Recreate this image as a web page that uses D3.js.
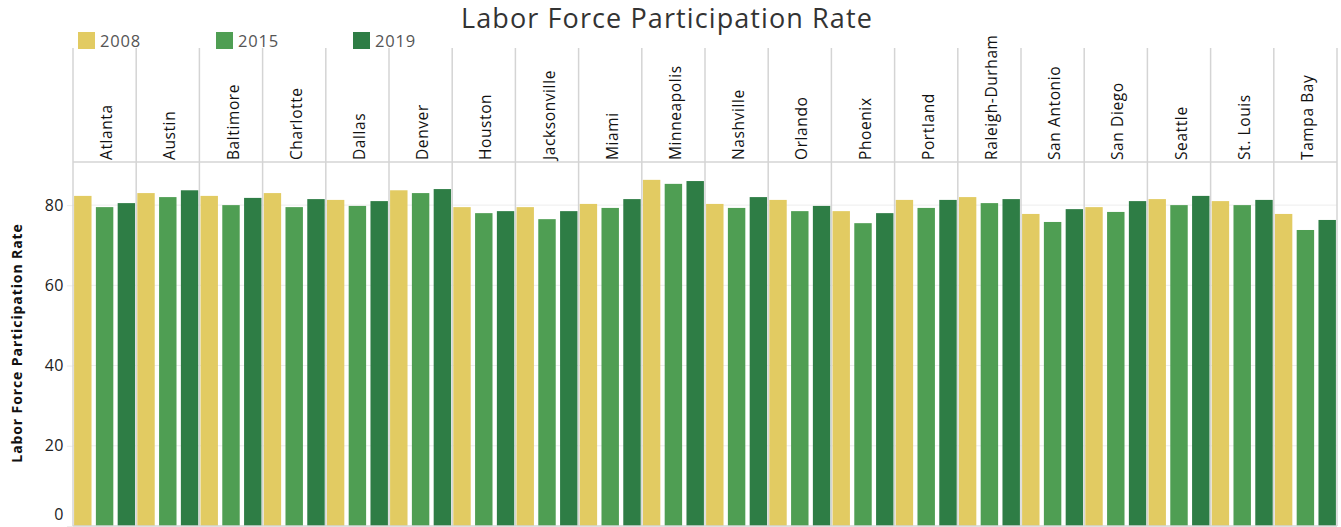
<!DOCTYPE html>
<html><head><meta charset="utf-8">
<script src="https://cdn.jsdelivr.net/npm/d3@7"></script>
<style>body{margin:0;background:#fff}svg{display:block}</style>
</head><body>
<svg id="c" width="1341" height="527"></svg>
<script>
const cities = ["Atlanta","Austin","Baltimore","Charlotte","Dallas","Denver","Houston","Jacksonville","Miami","Minneapolis","Nashville","Orlando","Phoenix","Portland","Raleigh-Durham","San Antonio","San Diego","Seattle","St. Louis","Tampa Bay"];
const years = ["2008","2015","2019"];
const v2008 = [82.3,83.0,82.3,83.0,81.3,83.7,79.5,79.5,80.3,86.3,80.3,81.3,78.5,81.3,82.0,77.8,79.5,81.5,81.0,77.8];
const v2015 = [79.5,82.0,80.0,79.5,79.8,83.0,78.0,76.5,79.3,85.3,79.3,78.5,75.5,79.3,80.5,75.8,78.3,80.0,80.0,73.8];
const v2019 = [80.5,83.7,81.8,81.5,81.0,84.0,78.5,78.5,81.5,86.0,82.0,79.8,78.0,81.3,81.5,79.0,81.0,82.3,81.3,76.3];
const yTicks = [0,20,40,60,80];
const colors = ["#e2cb62","#4f9e53","#2e7d45"];

const series = [v2008, v2015, v2019];
const svg = d3.select("#c");
const left = 73, right = 1337, headTop = 48, headBottom = 162, bottom = 526;

const x0 = d3.scaleBand().domain(cities).range([left, right]).padding(0);
const x1 = d3.scaleBand().domain(years).range([0, x0.bandwidth()]).paddingInner(0.2).paddingOuter(0.05);
const y = d3.scaleLinear().domain([0, 80]).range([bottom, bottom - 80*4.011]);

// title
svg.append("text").attr("x", 667).attr("y", 28).attr("text-anchor","middle")
  .attr("font-family","Open Sans, sans-serif").attr("font-size", 27).attr("letter-spacing", 1.1).attr("fill","#333")
  .text("Labor Force Participation Rate");

// legend
const legX = [78, 216, 353];
years.forEach((yr,i)=>{
  svg.append("rect").attr("x",legX[i]).attr("y",32).attr("width",17).attr("height",17).attr("fill",colors[i]);
  svg.append("text").attr("x",legX[i]+22).attr("y",47).attr("font-family","Open Sans, sans-serif")
    .attr("font-size",16.5).attr("letter-spacing",0.8).attr("fill","#555").text(yr);
});

// gridlines
svg.append("g").selectAll("line").data(yTicks.filter(d=>d>0)).join("line")
  .attr("x1",left).attr("x2",right).attr("y1",d=>y(d)).attr("y2",d=>y(d))
  .attr("stroke","#ededed").attr("stroke-width",1);

// y axis
const yAxis = svg.append("g").attr("transform",`translate(${left},0)`)
  .call(d3.axisLeft(y).tickValues(yTicks).tickSize(6).tickPadding(3));
yAxis.select(".domain").remove();
yAxis.selectAll(".tick line").attr("stroke","#ececec");
yAxis.selectAll(".tick text").attr("font-family","Open Sans, sans-serif").attr("font-size",16).attr("letter-spacing",0.5).attr("fill","#222");
yAxis.selectAll(".tick").filter(d=>d===0).select("text").attr("dy","-0.4em");

svg.append("text").attr("transform","translate(22,343) rotate(-90)").attr("text-anchor","middle")
  .attr("font-family","Open Sans, sans-serif").attr("font-weight","bold").attr("font-size",14).attr("letter-spacing",0.9).attr("fill","#111")
  .text("Labor Force Participation Rate");

// bars
const g = svg.append("g").selectAll("g").data(cities).join("g")
  .attr("transform",d=>`translate(${x0(d)},0)`);
g.selectAll("rect").data((d,i)=>years.map((yr,j)=>({yr, v: series[j][i], j}))).join("rect")
  .attr("x",d=>x1(d.yr)).attr("width",x1.bandwidth())
  .attr("y",d=>y(d.v)).attr("height",d=>bottom-y(d.v)).attr("fill",d=>colors[d.j]);

// dividers
const divs = cities.map(c=>x0(c)).concat([right]);
svg.append("g").selectAll("line").data(divs).join("line")
  .attr("x1",d=>d).attr("x2",d=>d).attr("y1",headTop).attr("y2",bottom)
  .attr("stroke","#d4d4d4").attr("stroke-width",1.5);
svg.append("line").attr("x1",left).attr("x2",right).attr("y1",headBottom).attr("y2",headBottom)
  .attr("stroke","#d4d4d4").attr("stroke-width",1.5);
svg.append("line").attr("x1",left).attr("x2",right).attr("y1",bottom).attr("y2",bottom)
  .attr("stroke","#d4d4d4").attr("stroke-width",1.5);

// header labels
svg.append("g").selectAll("text").data(cities).join("text")
  .attr("transform",d=>`translate(${x0(d)+x0.bandwidth()/2+7.5},160) rotate(-90)`)
  .attr("font-family","Open Sans, sans-serif").attr("font-size",15.5).attr("letter-spacing",0.6).attr("fill","#111")
  .text(d=>d);
</script>
</body></html>
